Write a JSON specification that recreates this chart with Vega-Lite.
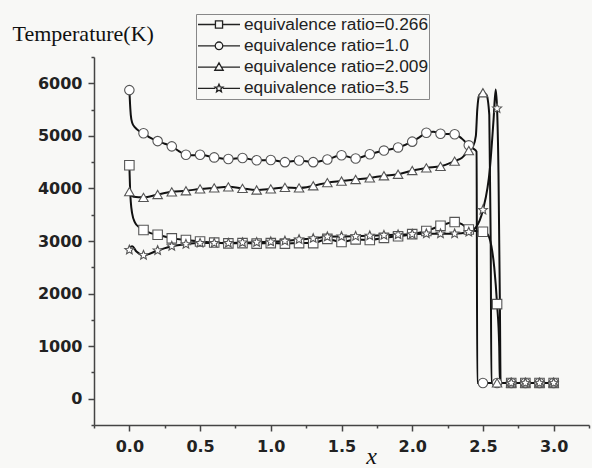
{
  "$schema": "https://vega.github.io/schema/vega-lite/v6.json",
  "autosize": "none",
  "width": 495,
  "height": 368,
  "padding": {"left": 94, "top": 57, "right": 3, "bottom": 43},
  "background": "#f8f8f6",
  "config": {"view": {"stroke": null}},
  "data": {"values": [
    {"s":"equivalence ratio=0.266","x":0,"T":4440},{"s":"equivalence ratio=0.266","x":0.005,"T":4000},{"s":"equivalence ratio=0.266","x":0.01,"T":3750},{"s":"equivalence ratio=0.266","x":0.02,"T":3520},{"s":"equivalence ratio=0.266","x":0.04,"T":3350},{"s":"equivalence ratio=0.266","x":0.07,"T":3260},{"s":"equivalence ratio=0.266","x":0.1,"T":3210},{"s":"equivalence ratio=0.266","x":0.15,"T":3150},{"s":"equivalence ratio=0.266","x":0.2,"T":3120},{"s":"equivalence ratio=0.266","x":0.3,"T":3050},{"s":"equivalence ratio=0.266","x":0.4,"T":3020},{"s":"equivalence ratio=0.266","x":0.5,"T":2990},{"s":"equivalence ratio=0.266","x":0.6,"T":2970},{"s":"equivalence ratio=0.266","x":0.7,"T":2955},{"s":"equivalence ratio=0.266","x":0.8,"T":2960},{"s":"equivalence ratio=0.266","x":0.9,"T":2950},{"s":"equivalence ratio=0.266","x":1.0,"T":2960},{"s":"equivalence ratio=0.266","x":1.1,"T":2950},{"s":"equivalence ratio=0.266","x":1.2,"T":2960},{"s":"equivalence ratio=0.266","x":1.3,"T":2960},{"s":"equivalence ratio=0.266","x":1.4,"T":3040},{"s":"equivalence ratio=0.266","x":1.5,"T":2980},{"s":"equivalence ratio=0.266","x":1.6,"T":3030},{"s":"equivalence ratio=0.266","x":1.7,"T":3020},{"s":"equivalence ratio=0.266","x":1.8,"T":3060},{"s":"equivalence ratio=0.266","x":1.9,"T":3090},{"s":"equivalence ratio=0.266","x":2.0,"T":3130},{"s":"equivalence ratio=0.266","x":2.1,"T":3190},{"s":"equivalence ratio=0.266","x":2.2,"T":3290},{"s":"equivalence ratio=0.266","x":2.3,"T":3360},{"s":"equivalence ratio=0.266","x":2.35,"T":3320},{"s":"equivalence ratio=0.266","x":2.4,"T":3220},{"s":"equivalence ratio=0.266","x":2.45,"T":3190},{"s":"equivalence ratio=0.266","x":2.5,"T":3175},{"s":"equivalence ratio=0.266","x":2.53,"T":3140},{"s":"equivalence ratio=0.266","x":2.56,"T":2900},{"s":"equivalence ratio=0.266","x":2.58,"T":2500},{"s":"equivalence ratio=0.266","x":2.6,"T":1800},{"s":"equivalence ratio=0.266","x":2.615,"T":1000},{"s":"equivalence ratio=0.266","x":2.62,"T":300},{"s":"equivalence ratio=0.266","x":2.7,"T":300},{"s":"equivalence ratio=0.266","x":2.8,"T":300},{"s":"equivalence ratio=0.266","x":2.9,"T":300},{"s":"equivalence ratio=0.266","x":3.0,"T":300},
    {"s":"equivalence ratio=1.0","x":0,"T":5870},{"s":"equivalence ratio=1.0","x":0.005,"T":5600},{"s":"equivalence ratio=1.0","x":0.01,"T":5400},{"s":"equivalence ratio=1.0","x":0.02,"T":5250},{"s":"equivalence ratio=1.0","x":0.04,"T":5160},{"s":"equivalence ratio=1.0","x":0.07,"T":5090},{"s":"equivalence ratio=1.0","x":0.1,"T":5050},{"s":"equivalence ratio=1.0","x":0.15,"T":4960},{"s":"equivalence ratio=1.0","x":0.2,"T":4900},{"s":"equivalence ratio=1.0","x":0.25,"T":4850},{"s":"equivalence ratio=1.0","x":0.3,"T":4800},{"s":"equivalence ratio=1.0","x":0.35,"T":4710},{"s":"equivalence ratio=1.0","x":0.4,"T":4640},{"s":"equivalence ratio=1.0","x":0.45,"T":4630},{"s":"equivalence ratio=1.0","x":0.5,"T":4640},{"s":"equivalence ratio=1.0","x":0.6,"T":4590},{"s":"equivalence ratio=1.0","x":0.7,"T":4560},{"s":"equivalence ratio=1.0","x":0.8,"T":4580},{"s":"equivalence ratio=1.0","x":0.9,"T":4535},{"s":"equivalence ratio=1.0","x":1.0,"T":4540},{"s":"equivalence ratio=1.0","x":1.1,"T":4500},{"s":"equivalence ratio=1.0","x":1.2,"T":4530},{"s":"equivalence ratio=1.0","x":1.3,"T":4500},{"s":"equivalence ratio=1.0","x":1.4,"T":4550},{"s":"equivalence ratio=1.0","x":1.5,"T":4630},{"s":"equivalence ratio=1.0","x":1.6,"T":4570},{"s":"equivalence ratio=1.0","x":1.7,"T":4650},{"s":"equivalence ratio=1.0","x":1.8,"T":4720},{"s":"equivalence ratio=1.0","x":1.9,"T":4780},{"s":"equivalence ratio=1.0","x":2.0,"T":4890},{"s":"equivalence ratio=1.0","x":2.05,"T":4970},{"s":"equivalence ratio=1.0","x":2.1,"T":5060},{"s":"equivalence ratio=1.0","x":2.15,"T":5080},{"s":"equivalence ratio=1.0","x":2.2,"T":5040},{"s":"equivalence ratio=1.0","x":2.3,"T":5030},{"s":"equivalence ratio=1.0","x":2.35,"T":4950},{"s":"equivalence ratio=1.0","x":2.4,"T":4820},{"s":"equivalence ratio=1.0","x":2.43,"T":4760},{"s":"equivalence ratio=1.0","x":2.455,"T":4700},{"s":"equivalence ratio=1.0","x":2.46,"T":300},{"s":"equivalence ratio=1.0","x":2.5,"T":300},{"s":"equivalence ratio=1.0","x":2.6,"T":300},{"s":"equivalence ratio=1.0","x":2.7,"T":300},{"s":"equivalence ratio=1.0","x":2.8,"T":300},{"s":"equivalence ratio=1.0","x":2.9,"T":300},{"s":"equivalence ratio=1.0","x":3.0,"T":300},
    {"s":"equivalence ratio=2.009","x":0,"T":3940},{"s":"equivalence ratio=2.009","x":0.01,"T":3880},{"s":"equivalence ratio=2.009","x":0.03,"T":3840},{"s":"equivalence ratio=2.009","x":0.1,"T":3830},{"s":"equivalence ratio=2.009","x":0.2,"T":3885},{"s":"equivalence ratio=2.009","x":0.3,"T":3935},{"s":"equivalence ratio=2.009","x":0.4,"T":3955},{"s":"equivalence ratio=2.009","x":0.5,"T":3990},{"s":"equivalence ratio=2.009","x":0.6,"T":4010},{"s":"equivalence ratio=2.009","x":0.7,"T":4030},{"s":"equivalence ratio=2.009","x":0.8,"T":4000},{"s":"equivalence ratio=2.009","x":0.9,"T":3970},{"s":"equivalence ratio=2.009","x":1.0,"T":3990},{"s":"equivalence ratio=2.009","x":1.1,"T":4020},{"s":"equivalence ratio=2.009","x":1.2,"T":4010},{"s":"equivalence ratio=2.009","x":1.3,"T":4050},{"s":"equivalence ratio=2.009","x":1.4,"T":4110},{"s":"equivalence ratio=2.009","x":1.5,"T":4140},{"s":"equivalence ratio=2.009","x":1.6,"T":4170},{"s":"equivalence ratio=2.009","x":1.7,"T":4200},{"s":"equivalence ratio=2.009","x":1.8,"T":4240},{"s":"equivalence ratio=2.009","x":1.9,"T":4270},{"s":"equivalence ratio=2.009","x":2.0,"T":4340},{"s":"equivalence ratio=2.009","x":2.1,"T":4390},{"s":"equivalence ratio=2.009","x":2.2,"T":4420},{"s":"equivalence ratio=2.009","x":2.3,"T":4520},{"s":"equivalence ratio=2.009","x":2.35,"T":4580},{"s":"equivalence ratio=2.009","x":2.4,"T":4720},{"s":"equivalence ratio=2.009","x":2.43,"T":4800},{"s":"equivalence ratio=2.009","x":2.45,"T":5000},{"s":"equivalence ratio=2.009","x":2.46,"T":5500},{"s":"equivalence ratio=2.009","x":2.475,"T":5780},{"s":"equivalence ratio=2.009","x":2.5,"T":5820},{"s":"equivalence ratio=2.009","x":2.525,"T":5780},{"s":"equivalence ratio=2.009","x":2.545,"T":5400},{"s":"equivalence ratio=2.009","x":2.555,"T":3000},{"s":"equivalence ratio=2.009","x":2.56,"T":300},{"s":"equivalence ratio=2.009","x":2.6,"T":300},{"s":"equivalence ratio=2.009","x":2.7,"T":300},{"s":"equivalence ratio=2.009","x":2.8,"T":300},{"s":"equivalence ratio=2.009","x":2.9,"T":300},{"s":"equivalence ratio=2.009","x":3.0,"T":300},
    {"s":"equivalence ratio=3.5","x":0,"T":2830},{"s":"equivalence ratio=3.5","x":0.01,"T":2890},{"s":"equivalence ratio=3.5","x":0.02,"T":2900},{"s":"equivalence ratio=3.5","x":0.05,"T":2800},{"s":"equivalence ratio=3.5","x":0.1,"T":2730},{"s":"equivalence ratio=3.5","x":0.2,"T":2820},{"s":"equivalence ratio=3.5","x":0.3,"T":2900},{"s":"equivalence ratio=3.5","x":0.4,"T":2940},{"s":"equivalence ratio=3.5","x":0.5,"T":2960},{"s":"equivalence ratio=3.5","x":0.6,"T":2960},{"s":"equivalence ratio=3.5","x":0.7,"T":2960},{"s":"equivalence ratio=3.5","x":0.8,"T":2970},{"s":"equivalence ratio=3.5","x":0.9,"T":2975},{"s":"equivalence ratio=3.5","x":1.0,"T":2985},{"s":"equivalence ratio=3.5","x":1.1,"T":3000},{"s":"equivalence ratio=3.5","x":1.2,"T":3030},{"s":"equivalence ratio=3.5","x":1.3,"T":3050},{"s":"equivalence ratio=3.5","x":1.4,"T":3080},{"s":"equivalence ratio=3.5","x":1.5,"T":3085},{"s":"equivalence ratio=3.5","x":1.6,"T":3090},{"s":"equivalence ratio=3.5","x":1.7,"T":3100},{"s":"equivalence ratio=3.5","x":1.8,"T":3110},{"s":"equivalence ratio=3.5","x":1.9,"T":3120},{"s":"equivalence ratio=3.5","x":2.0,"T":3130},{"s":"equivalence ratio=3.5","x":2.1,"T":3140},{"s":"equivalence ratio=3.5","x":2.2,"T":3140},{"s":"equivalence ratio=3.5","x":2.3,"T":3140},{"s":"equivalence ratio=3.5","x":2.4,"T":3170},{"s":"equivalence ratio=3.5","x":2.45,"T":3260},{"s":"equivalence ratio=3.5","x":2.5,"T":3590},{"s":"equivalence ratio=3.5","x":2.55,"T":4400},{"s":"equivalence ratio=3.5","x":2.575,"T":5300},{"s":"equivalence ratio=3.5","x":2.59,"T":5880},{"s":"equivalence ratio=3.5","x":2.6,"T":5520},{"s":"equivalence ratio=3.5","x":2.61,"T":4300},{"s":"equivalence ratio=3.5","x":2.62,"T":1800},{"s":"equivalence ratio=3.5","x":2.625,"T":300},{"s":"equivalence ratio=3.5","x":2.7,"T":300},{"s":"equivalence ratio=3.5","x":2.8,"T":300},{"s":"equivalence ratio=3.5","x":2.9,"T":300},{"s":"equivalence ratio=3.5","x":3.0,"T":300}
  ]},
  "encoding": {
    "x": {
      "field": "x", "type": "quantitative",
      "scale": {"domain": [-0.25, 3.25], "nice": false, "zero": false},
      "axis": {
        "title": "x", "titleFont": "Liberation Serif", "titleFontStyle": "italic", "titleFontWeight": "normal", "titleFontSize": 24, "titleColor": "#111",
        "titleX": 277, "titleY": 38, "titleAlign": "center", "titleBaseline": "alphabetic",
        "values": [-0.25, 0, 0.25, 0.5, 0.75, 1, 1.25, 1.5, 1.75, 2, 2.25, 2.5, 2.75, 3, 3.25],
        "labelExpr": "datum.value % 0.5 === 0 ? format(datum.value, '.1f') : ''",
        "labelFont": "DejaVu Sans", "labelFontWeight": "bold", "labelFontSize": 16, "labelColor": "#222",
        "labelPadding": 7, "labelOverlap": false, "labelFlush": false,
        "tickSize": {"condition": {"test": "datum.value % 0.5 === 0", "value": 6}, "value": 3},
        "tickColor": "#444", "tickWidth": 1.5, "domainColor": "#444", "domainWidth": 1.5, "grid": false
      }
    },
    "y": {
      "field": "T", "type": "quantitative",
      "scale": {"domain": [-500, 6500], "nice": false, "zero": false},
      "axis": {
        "title": "Temperature(K)", "titleFont": "Liberation Serif", "titleFontWeight": "normal", "titleFontSize": 22, "titleColor": "#111",
        "titleAngle": 0, "titleAlign": "left", "titleBaseline": "alphabetic", "titleX": -82, "titleY": -17,
        "values": [-500, 0, 500, 1000, 1500, 2000, 2500, 3000, 3500, 4000, 4500, 5000, 5500, 6000, 6500],
        "labelExpr": "datum.value % 1000 === 0 && datum.value >= 0 && datum.value <= 6000 ? format(datum.value, 'd') : ''",
        "labelFont": "DejaVu Sans", "labelFontWeight": "bold", "labelFontSize": 16, "labelColor": "#222",
        "labelPadding": 6, "labelOverlap": false, "labelFlush": false,
        "tickSize": {"condition": {"test": "datum.value % 1000 === 0", "value": 6}, "value": 3},
        "tickColor": "#444", "tickWidth": 1.5, "domainColor": "#444", "domainWidth": 1.5, "grid": false
      }
    }
  },
  "layer": [
    {
      "mark": {"type": "line", "interpolate": "monotone", "color": "#111", "strokeWidth": 2},
      "encoding": {"detail": {"field": "s"}}
    },
    {
      "transform": [{"filter": "abs(datum.x * 10 - round(datum.x * 10)) < 1e-6"}],
      "mark": {"type": "point", "filled": true, "fill": "white", "stroke": "#555", "strokeWidth": 1.1, "size": 90, "opacity": 1},
      "encoding": {
        "shape": {
          "field": "s", "type": "nominal", "legend": null,
          "scale": {
            "domain": ["equivalence ratio=0.266", "equivalence ratio=1.0", "equivalence ratio=2.009", "equivalence ratio=3.5"],
            "range": ["square", "circle", "triangle-up", "M0,-1L0.265,-0.364L0.951,-0.309L0.428,0.139L0.588,0.809L0,0.45L-0.588,0.809L-0.428,0.139L-0.951,-0.309L-0.265,-0.364Z"]
          }
        }
      }
    },
    {
      "transform": [{"filter": "datum.x === 3"}],
      "mark": {"type": "point", "filled": false, "color": "#222", "strokeWidth": 1.3, "opacity": 0, "size": 10},
      "encoding": {
        "shape": {
          "field": "s", "type": "nominal",
          "scale": {
            "domain": ["equivalence ratio=0.266", "equivalence ratio=1.0", "equivalence ratio=2.009", "equivalence ratio=3.5"],
            "range": [
              "M-1,0H-0.17M0.17,0H1M-0.17,-0.17H0.17V0.17H-0.17Z",
              "M-1,0H-0.18M0.18,0H1M-0.18,0A0.18,0.18,0,1,1,0.18,0A0.18,0.18,0,1,1,-0.18,0Z",
              "M-1,0H-0.12M0.12,0H1M0,-0.2L0.2,0.15H-0.2Z",
              "M-1,0H-0.19M0.19,0H1M0,-0.2L0.053,-0.073L0.19,-0.062L0.086,0.028L0.118,0.162L0,0.09L-0.118,0.162L-0.086,0.028L-0.19,-0.062L-0.053,-0.073Z"
            ]
          },
          "legend": {
            "title": null, "orient": "none", "legendX": 102, "legendY": -43,
            "padding": 1, "strokeColor": "#888", "fillColor": "#f8f8f6",
            "clipHeight": 19, "rowPadding": 2.3,
            "symbolSize": 1764, "symbolOpacity": 1, "symbolStrokeColor": "#222", "symbolStrokeWidth": 1.3,
            "labelFont": "Liberation Sans", "labelFontSize": 17.3, "labelColor": "#222", "labelOffset": 3, "labelLimit": 400
          }
        }
      }
    }
  ],
  "resolve": {"scale": {"shape": "independent"}}
}
